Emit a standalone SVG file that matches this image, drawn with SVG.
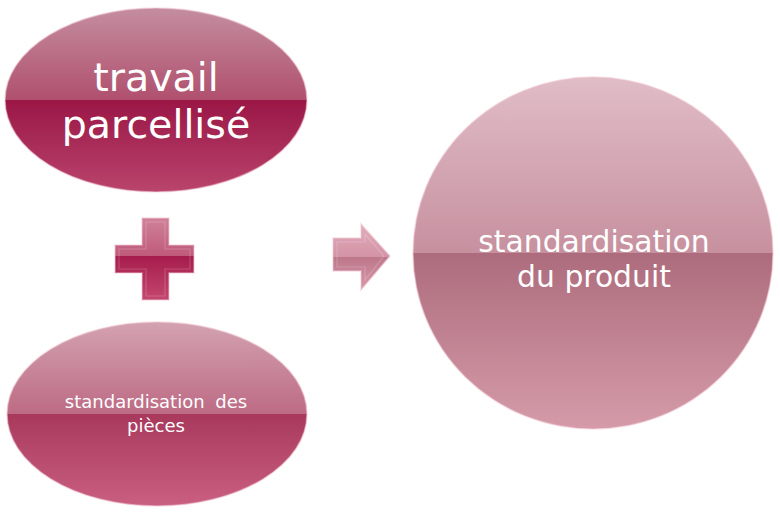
<svg xmlns="http://www.w3.org/2000/svg" width="780" height="516" viewBox="0 0 780 516">
  <defs>
    <linearGradient id="gTop" x1="0" y1="0" x2="0" y2="1">
      <stop offset="0" stop-color="#c48d9f"/>
      <stop offset="0.5" stop-color="#b0506e"/>
      <stop offset="0.5" stop-color="#9a1646"/>
      <stop offset="1" stop-color="#b9446c"/>
    </linearGradient>
    <linearGradient id="gBot" x1="0" y1="0" x2="0" y2="1">
      <stop offset="0" stop-color="#d3a2b1"/>
      <stop offset="0.5" stop-color="#bd6b84"/>
      <stop offset="0.5" stop-color="#a8395d"/>
      <stop offset="1" stop-color="#c95f81"/>
    </linearGradient>
    <linearGradient id="gCir" x1="0" y1="0" x2="0" y2="1">
      <stop offset="0" stop-color="#e0bdc7"/>
      <stop offset="0.5" stop-color="#c7909f"/>
      <stop offset="0.5" stop-color="#ad6c7d"/>
      <stop offset="1" stop-color="#d59ba9"/>
    </linearGradient>
    <linearGradient id="gPlus" x1="0" y1="0" x2="0" y2="1">
      <stop offset="0" stop-color="#cf8299"/>
      <stop offset="0.46" stop-color="#c05a7b"/>
      <stop offset="0.46" stop-color="#a51c4c"/>
      <stop offset="1" stop-color="#c4476f"/>
    </linearGradient>
    <linearGradient id="gArr" x1="0" y1="0" x2="0" y2="1">
      <stop offset="0" stop-color="#e2adbc"/>
      <stop offset="0.5" stop-color="#d293a5"/>
      <stop offset="0.5" stop-color="#bd778b"/>
      <stop offset="1" stop-color="#d899aa"/>
    </linearGradient>
  </defs>
  <style>
    .rim { stroke: #f0c8d4; stroke-opacity: 0.55; stroke-width: 1.5; }
    .bevel { fill: none; stroke: #ffffff; stroke-opacity: 0.18; stroke-width: 1.2; }
    .lbl { font-family: "DejaVu Sans", "Open Sans", sans-serif; fill: #ffffff; text-anchor: middle; }
  </style>
  <rect width="780" height="516" fill="#ffffff"/>

  <g id="node-travail">
    <ellipse cx="156" cy="100" rx="151" ry="92" fill="url(#gTop)" class="rim"/>
    <text class="lbl" font-size="39.5"><tspan x="156" y="91">travail</tspan><tspan x="156" y="138">parcellisé</tspan></text>
  </g>

  <g id="node-plus">
    <path d="M142,218 H169 V245 H194 V273 H169 V300 H142 V273 H115 V245 H142 Z" fill="url(#gPlus)" class="rim"/>
    <path d="M146,222 H165 V249 H190 V269 H165 V296 H146 V269 H119 V249 H146 Z" class="bevel"/>
  </g>

  <g id="node-pieces">
    <ellipse cx="157" cy="414" rx="150" ry="92" fill="url(#gBot)" class="rim"/>
    <text class="lbl" font-size="18"><tspan x="156" y="408" word-spacing="5">standardisation des</tspan><tspan x="156" y="432">pièces</tspan></text>
  </g>

  <g id="connectors">
    <path d="M333,238 H361 V224 L390,256 L361,290 V271 H333 Z" fill="url(#gArr)" class="rim"/>
    <path d="M337,242 H365 V234 L384,256 L365,280 V267 H337 Z" class="bevel"/>
  </g>

  <g id="node-produit">
    <ellipse cx="593" cy="253" rx="180" ry="176" fill="url(#gCir)" class="rim"/>
    <text class="lbl" font-size="29.8"><tspan x="594" y="252">standardisation</tspan><tspan x="594" y="287">du produit</tspan></text>
  </g>
</svg>
